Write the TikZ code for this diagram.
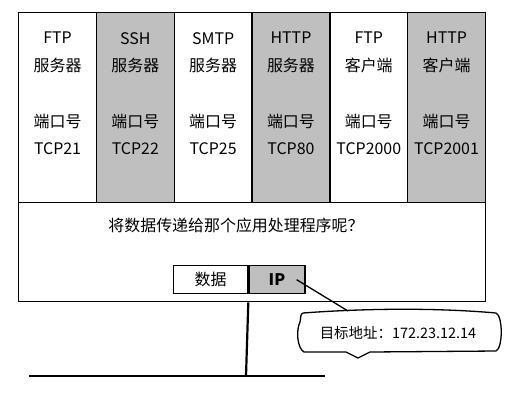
\documentclass[tikz,border=0pt]{standalone}
\usepackage{fontspec}
\setmainfont{Noto Sans CJK SC}
\usetikzlibrary{positioning}

\begin{document}
\begin{tikzpicture}
[x=1bp,y=-1bp,line width=1.3bp,%
  every node/.style={inner sep=0pt,font=\fontsize{16}{27.8}\selectfont},%
  portcol/.style={draw,minimum width=77.8bp,minimum height=190bp,anchor=north west},%
  greycol/.style={portcol,fill=black!25},%
  pktbox/.style={draw,minimum height=28bp,anchor=north west}]
\useasboundingbox (0,0) rectangle (532,400);
%%
\foreach \col/\xx/\kind/\txt in {%
  1/18/portcol/{FTP\\服务器\\[27.8bp]端口号\\TCP21},
  2/95.8/greycol/{SSH\\服务器\\[27.8bp]端口号\\TCP22},
  3/173.6/portcol/{SMTP\\服务器\\[27.8bp]端口号\\TCP25},
  4/251.4/greycol/{HTTP\\服务器\\[27.8bp]端口号\\TCP80},
  5/329.2/portcol/{FTP\\客户端\\[27.8bp]端口号\\TCP2000},
  6/407/greycol/{HTTP\\客户端\\[27.8bp]端口号\\TCP2001}}
{
  \node[\kind] (c\col) at (\xx,12) {};
  \node[anchor=north,align=center] (t\col) at ([yshift=-19.5bp]c\col.north) {\txt};
}
%%
\node[draw,minimum width=467bp,minimum height=99bp,anchor=north west] (host) at (18,202) {};
\node (ask) at (236,225) {将数据传递给那个应用处理程序呢？};
\node[pktbox,minimum width=74bp] (data) at (173,265) {数据};
\node[pktbox,minimum width=56bp,fill=black!25,right=0pt of data,font=\fontsize{16}{18}\selectfont\bfseries] (ip) {IP};
%%
\coordinate (stem) at (246,376);
\coordinate (wireL) at (29,376);
\coordinate (wireR) at (325,376);
\draw[line width=2.2bp] (host.south -| data.east) -- (stem);
\draw[line width=2.2bp] (wireL) -- (wireR);
%%
\node[font=\fontsize{14.5}{18}\selectfont] (dst) at (398,333) {目标地址：172.23.12.14};
\coordinate (tip) at (348,311);
\draw (303,313) .. controls (370,308) and (440,308) .. (496,313)
  .. controls (503,316) and (503,348) .. (496,351)
  -- (370,352) -- (358,358) -- (346,352) -- (304,352)
  .. controls (297,348) and (296,330) .. (300,322)
  .. controls (301,318) and (300,314) .. (303,313) -- cycle;
\draw ([xshift=-9bp]ip.east) -- (tip);
\end{tikzpicture}
\end{document}
